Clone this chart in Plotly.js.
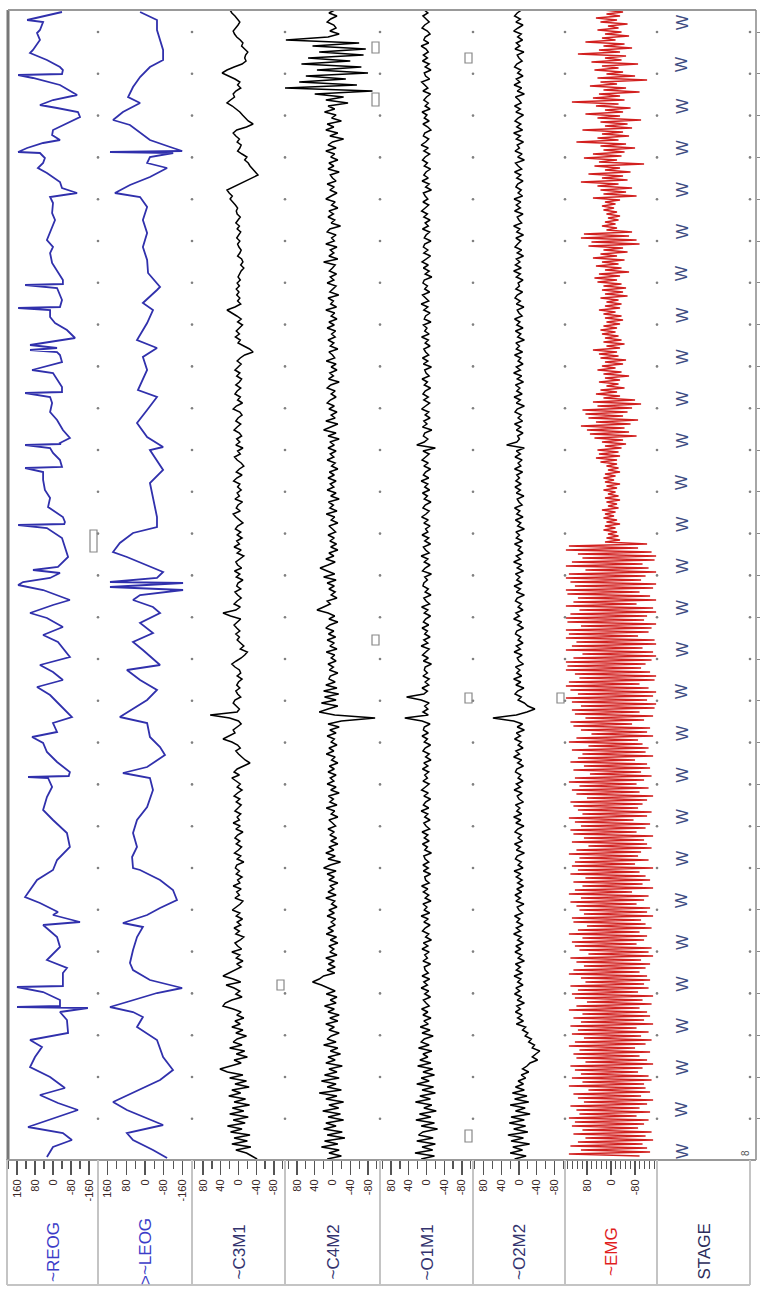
<!DOCTYPE html>
<html><head><meta charset="utf-8">
<script src="https://cdn.plot.ly/plotly-3.0.1.min.js"></script>
<style>html,body{margin:0;padding:0;background:#fff}#chart{width:760px;height:1290px}</style>
</head><body><div id="chart"></div>
<script>
// ---------------- DATA ----------------
const channelNames = ['~REOG', '>~LEOG', '~C3M1', '~C4M2', '~O1M1', '~O2M2', '~EMG', 'STAGE'];
const eogTicks = [160, 80, 0, -80, -160];
const eegTicks = [80, 40, 0, -40, -80];
const emgTicks = [80, 0, -80];

// EOG: vertices (time, µV)
const reogT = [2,10,12,20,23,30,40,43,50,57,60,64,65,68,75,80,85,90,95,98,102,107,113,120,125,130,133,138,142,143,148,153,158,163,172,178,183,187,193,203,210,217,230,237,243,253,263,270,274,275,278,285,290,297,298,300,307,313,320,328,332,335,338,340,342,345,352,360,363,370,377,382,383,387,393,402,410,420,428,433,434,435,438,443,450,457,458,462,470,480,488,497,507,512,514,515,518,528,538,547,557,560,563,568,572,575,580,585,590,595,603,608,617,625,632,647,655,662,670,677,685,693,707,713,722,727,733,742,752,762,766,767,768,777,787,800,810,823,837,850,860,870,887,893,902,905,912,915,927,937,950,958,963,976,977,982,990,996,997,998,1002,1010,1023,1030,1037,1047,1057,1067,1078,1085,1093,1100,1117,1123,1130,1137,1147];
const reogV = [-40,115,44,58,71,58,89,102,27,-31,-44,-40,155,89,-31,-67,-107,0,58,-18,-111,-120,-62,0,4,-31,44,115,155,58,36,44,67,27,-31,-40,-107,13,0,4,-9,4,27,0,13,4,-22,-44,-44,124,-18,-31,-40,-31,155,13,13,-9,-62,-98,27,102,-18,102,-18,-31,-40,93,0,-22,-40,-40,124,13,4,13,-18,-44,-75,-31,-35,124,13,0,-31,-40,124,44,44,36,13,22,-44,-53,-50,155,27,-40,-53,-67,-22,89,-31,13,133,155,44,-18,-75,0,102,27,-44,44,-22,-75,58,0,-44,71,13,-22,-84,0,-18,93,44,27,-18,-75,-70,111,22,4,27,44,0,-62,-75,-18,0,71,124,58,-22,0,-120,44,-18,-31,27,-62,-44,-44,160,44,-31,-31,160,-155,-31,-62,-67,102,49,80,102,13,-53,58,-22,-111,111,-44,-84,0,27];
const leogT = [2,10,20,30,40,50,57,67,77,87,93,102,110,115,123,130,137,141,142,143,147,153,158,167,175,183,187,197,210,223,237,250,263,277,280,293,300,313,330,338,347,360,380,387,400,413,427,437,440,460,473,487,507,517,523,533,542,547,557,562,568,572,573,577,580,585,590,597,603,613,623,632,640,655,660,670,680,690,707,713,727,737,745,757,763,768,780,797,810,823,837,847,858,860,870,880,890,898,905,913,917,927,940,953,960,970,978,983,992,997,1002,1007,1017,1030,1047,1060,1070,1083,1092,1100,1115,1123,1130,1140,1148];
const leogV = [21,-51,-51,-64,-77,-77,-21,21,51,72,21,94,136,64,21,-21,-107,-158,149,-120,-21,-9,-94,-21,64,128,21,-9,9,-9,9,-9,-13,-64,-51,9,-34,-9,34,-51,9,-9,30,-51,-9,34,-9,-77,-21,-77,-21,-34,-51,-51,51,107,136,77,-21,-77,-51,149,-162,149,-162,21,51,-34,-64,21,-34,51,9,-64,77,21,-51,-9,107,-9,-21,-64,-85,-9,94,-21,-34,-9,34,51,34,55,51,21,-64,-119,-136,-64,-9,94,9,34,51,64,51,-21,-158,-51,77,149,51,9,34,-51,-77,-119,-64,51,136,77,-77,77,51,-34,-94];

// EEG: regularly sampled values (µV), one sample every eegStep time units
const eegStep = 3;
const c3m1V = [
 19,15,8,2,-3,1,6,12,9,4,-4,-10,-7,-14,-21,-16,
 -14,-17,-8,10,26,37,22,8,-3,2,-5,6,12,9,18,26,
 14,5,-3,-9,-15,-22,-33,-18,4,12,6,-2,3,-6,-3,2,
 -8,-19,-14,-22,-26,-31,-38,-44,-30,-16,-3,12,26,21,14,19,
 12,7,2,5,3,-4,1,6,-2,3,-5,0,4,-3,2,-1,
 -6,-3,2,-7,-10,-5,-12,-6,-3,1,-4,3,-2,5,-1,4,
 -3,2,-5,8,26,14,4,-6,2,-9,-3,5,-2,7,-4,1,
 -12,-25,-33,-14,-4,3,-6,2,8,-3,4,-7,-2,6,-5,3,
 8,-4,2,-9,5,12,-3,-8,1,6,-5,3,10,-2,-7,4,
 -3,6,-10,2,-4,9,3,-6,-12,-2,5,-8,4,11,-3,2,
 -6,3,-2,8,-9,1,5,-4,12,6,-3,-10,2,7,-5,3,
 -8,4,-2,10,-6,3,-12,-4,6,2,-7,9,-3,5,-10,1,
 4,-5,8,2,-6,3,10,-4,6,35,18,-5,2,10,4,-3,
 6,-2,3,-5,-12,-4,-20,-14,-6,5,15,8,-2,-5,3,-8,
 0,4,-3,6,2,-5,8,12,5,-2,3,64,20,0,-6,4,
 12,8,20,35,15,2,-4,6,0,-8,-15,-26,-12,3,10,-2,
 15,6,-4,3,-8,2,10,-3,5,-6,1,8,-5,3,-2,12,
 -4,6,-10,2,8,-3,5,-7,0,9,-5,3,-12,4,7,-2,
 5,-8,2,-3,12,-6,4,-2,8,-10,-4,6,14,-3,5,-9,
 3,-5,10,-2,6,-12,-4,8,2,-7,15,-3,5,-10,4,-6,
 8,20,35,12,-5,28,10,-3,6,-8,15,30,35,12,-6,4,
 -12,8,-4,15,-10,6,-18,3,12,-8,20,-14,5,-20,10,-6,
 18,42,25,-10,20,-18,8,-24,15,-5,22,-16,10,-25,14,-12,
 20,-22,12,-15,25,-8,18,-26,10,-20,15,-28,6,-18,-30,-42];
const c4m2V = [
 -5,8,-10,4,12,-3,-8,6,-15,10,105,-60,45,-75,30,-70,
 55,-40,70,-65,35,-80,60,-30,75,-55,110,-90,40,-25,15,-35,
 10,-5,18,-8,2,-20,12,-3,15,-12,6,-25,0,10,-8,15,
 -5,4,-12,8,-3,10,-15,5,0,-8,12,-4,6,-10,3,15,
 -6,2,-12,8,-2,10,-5,3,-18,6,12,-8,2,-4,15,-10,
 5,-3,8,-12,20,-6,0,7,-9,5,-3,12,-8,0,6,-14,
 10,-2,4,-9,15,-5,3,-10,8,-4,12,-7,2,-6,10,-3,
 5,-12,8,0,-5,14,-8,3,-10,6,-2,9,-15,4,12,-6,
 3,-8,5,12,-4,8,-10,3,-6,15,-12,4,20,-8,10,-15,
 6,-4,10,-8,5,-3,12,-6,2,-12,7,-4,10,-8,5,-3,
 12,-8,4,-15,9,-2,6,-10,14,-5,3,-12,8,0,-7,10,
 -4,6,-9,4,-12,8,-3,15,-6,10,28,12,-5,20,-8,12,
 -4,8,-6,3,-10,12,5,20,35,10,-5,8,-12,6,15,-3,
 9,-7,12,-4,6,-10,14,-5,3,-8,10,-2,7,-12,5,8,
 -6,15,-10,20,-14,18,-8,25,-12,10,30,-5,-96,-20,10,-15,
 6,-8,12,-4,3,-10,8,-3,14,-6,2,-12,7,-4,10,-8,
 5,-3,12,-8,4,-15,9,-2,6,-10,14,-5,3,-12,8,0,
 -7,10,-4,6,-9,4,-12,8,-3,15,-6,10,-18,5,20,-8,
 12,-4,8,-12,6,-3,10,-8,15,-5,2,-10,8,-4,12,-7,
 3,-6,10,-2,14,-9,5,-12,8,-3,6,-10,15,-4,9,-6,
 12,-5,20,30,45,25,8,-6,14,-10,5,-8,18,-4,10,-15,
 6,-12,15,-4,8,-15,3,12,-8,20,-12,5,-18,10,-6,15,
 -22,8,-10,18,-15,25,-8,12,-20,30,-10,15,-25,8,-14,22,
 -18,10,-25,15,-8,20,-22,12,-28,18,-12,25,-15,8,-20,12];
const o1m1V = [
 5,-3,8,2,-6,4,10,-2,-8,3,6,-5,12,1,-4,7,
 -2,9,-6,3,-10,5,2,-7,11,4,-3,8,-9,0,6,-4,
 3,-8,10,-1,5,-6,8,-3,-10,4,7,-5,2,12,-4,6,
 -7,3,9,-2,5,-9,1,6,-4,10,-6,2,-11,7,3,-3,
 8,-5,4,11,-2,6,-8,3,-4,9,-7,1,5,-10,4,7,
 -3,6,-9,2,10,-4,7,-6,3,-12,5,8,-2,4,-7,9,
 1,-5,12,-3,6,-8,2,5,-10,7,-1,4,-6,11,-4,3,
 -8,6,2,-5,9,-3,7,-11,4,1,-6,10,-2,5,-9,3,
 8,-4,6,-7,2,11,-5,3,-8,6,-1,9,-12,4,7,-3,
 5,22,-20,8,-6,3,10,-4,6,-9,2,7,-5,12,-3,4,
 -7,9,-2,5,-10,3,8,-6,1,11,-4,6,-8,2,-3,10,
 -5,4,-9,7,2,-6,12,-3,5,-8,3,9,-11,4,-2,6,
 8,-4,3,-10,6,1,-7,11,-3,5,-9,2,7,-5,10,-2,
 4,-8,6,-3,12,-6,2,9,-4,7,-11,3,5,-2,8,-6,
 3,-5,10,-2,6,45,12,-6,4,-3,8,-4,49,10,-8,5,
 7,-4,10,-2,5,-9,3,8,-6,2,-10,6,-3,9,-5,4,
 -2,8,-6,3,11,-4,6,-9,2,7,-5,12,-3,4,-8,6,
 1,-7,10,-3,5,-6,9,-2,4,-11,6,3,-5,8,-4,7,
 -9,4,2,-6,11,-3,7,-5,3,-10,8,-1,5,-7,12,-4,
 6,-8,3,9,-5,2,-11,7,-3,10,-6,4,-2,8,-9,5,
 3,-4,10,-7,6,-2,12,-5,4,-9,7,1,-6,11,-3,8,
 -10,6,-4,14,-8,10,-15,5,12,-6,18,-12,8,-3,15,-10,
 20,-14,8,-18,12,-6,22,-16,10,-20,15,-9,25,-12,6,-22,
 16,-10,24,-18,12,-25,8,18,-15,22,-20,10,-14,26,-18,12];
const o2m2V = [
 -6,4,10,-3,7,-9,2,12,-5,3,-8,6,-2,9,-11,4,
 0,-7,5,10,-4,3,-9,6,-2,11,-6,4,-12,8,0,-5,
 10,-3,7,-10,2,9,-4,5,-8,12,-3,6,-10,4,-1,9,
 -7,3,-12,8,2,-6,10,-4,5,-9,3,7,-5,2,-8,11,
 -4,6,-3,10,-9,4,0,-6,12,-2,5,-10,7,-4,3,9,
 -6,4,-10,6,-2,8,-5,12,-3,6,-9,2,-1,7,-8,4,
 9,-3,6,-11,4,0,-7,10,-2,5,-9,8,-4,3,-12,7,
 -1,6,-8,10,-4,2,-9,6,-3,12,-6,4,-10,8,-2,5,
 -7,11,-3,6,-12,4,9,-5,2,-8,10,-4,6,-9,3,-1,
 5,28,-12,6,-3,9,-7,2,-4,10,-8,5,-1,7,-5,9,
 -3,6,-11,4,0,-7,10,-2,5,-9,8,-4,3,-12,7,-1,
 6,-8,10,-4,2,-9,6,-3,12,-6,4,-10,8,-2,5,-7,
 11,-3,6,-12,4,8,-5,2,-9,7,-1,12,-6,3,-10,5,
 8,-4,2,-9,6,-3,11,-7,4,0,-10,8,-2,5,-6,12,
 -4,7,-11,3,9,-5,2,-12,-20,-36,-18,6,59,12,-8,4,
 -12,6,-3,10,-5,2,-9,7,-1,12,-6,3,-10,5,8,-4,
 2,-9,6,-3,11,-7,4,0,-10,8,-2,5,-6,12,-4,7,
 -11,3,9,-5,2,-8,10,-3,6,-12,4,8,-5,2,-9,11,
 -4,6,-7,3,-10,5,-6,9,-3,7,-11,4,0,-8,10,-2,
 5,-9,6,-3,12,-5,3,-10,7,-4,9,-6,2,-12,8,-3,
 6,-8,11,-4,3,-9,7,-2,10,-6,4,-12,5,-3,8,-7,
 3,-10,6,-15,-8,-20,-14,-28,-22,-35,-30,-47,-38,-30,-42,-25,
 -18,-8,-22,-5,-15,2,-10,8,-12,15,-18,10,-22,20,-14,8,
 -25,18,-12,22,-15,12,-20,25,-10,18,-24,14,-8,20,-16,10];

// EMG: one sample every emgStep time units
const emgStep = 2;
const emgV = [
 25,-40,15,-30,50,-20,35,-55,10,-25,45,-35,20,-60,30,-15,
 85,-45,25,-70,40,-30,110,-50,20,-35,65,-90,30,-25,55,-40,
 15,-80,45,-120,35,-20,70,-50,25,-95,40,-30,60,-45,130,-25,
 50,-65,20,-40,85,-30,45,-100,35,-55,20,-70,95,-40,30,-60,
 45,-25,115,-50,35,-80,25,-45,60,-35,90,-20,40,-110,55,-30,
 20,-65,75,-40,30,-55,100,-25,45,-70,35,-50,25,-85,60,-30,
 20,-15,30,-10,25,-20,15,-30,10,-25,20,-15,30,-20,15,
 -70,90,-60,100,-85,65,-95,75,
 -40,25,-55,35,-20,60,-45,30,-25,50,-35,20,-60,40,-30,55,-20,45,-35,25,-50,30,-40,20,-55,35,
 -25,15,-35,20,-30,40,-15,25,-35,20,-40,15,-30,25,-20,35,-15,30,-25,20,
 -35,25,-45,15,-30,60,-20,40,-25,35,-50,20,-40,30,-15,45,-35,25,-60,20,-30,40,-25,15,-45,35,-20,50,-30,25,
 -80,60,-100,45,-70,95,-55,85,-40,75,-90,50,-65,100,-45,80,-60,70,-85,55,
 -40,30,-50,20,-35,45,-25,40,-30,50,-20,35,
 -20,15,-25,10,-30,20,-15,25,-10,20,-30,15,-20,25,-15,10,-25,20,-30,15,-20,10,-25,30,-15,20,-10,25,-20,15,-30,20,-15,25,-20,10,-25,15,-30,20,
 -120,140,-90,150,-135,110,-150,95,-145,130,-105,150,-125,85,-150,140,-115,150,-100,135,
 -150,120,-140,150,-95,145,-130,110,-150,125,-85,150,-140,105,-150,135,-120,150,-110,145,
 -150,100,-135,150,-125,140,-90,150,-145,115,-150,130,-105,150,-140,95,-150,125,-135,150,
 -115,145,-100,150,-130,120,-150,105,-145,140,-95,150,-125,135,-150,110,-140,150,-120,130,
 -150,100,-145,
 130,-95,120,-140,85,-110,135,-70,125,-130,100,-120,65,-140,115,-90,
 140,-105,75,-125,130,-115,95,-140,110,-80,135,-120,90,-130,125,-100,
 70,-135,120,-110,140,-85,105,-125,130,-95,115,-140,80,-120,135,-105,
 125,-90,110,-135,95,-120,140,-75,120,-130,100,-115,135,-85,125,-140,
 90,-110,130,-120,75,-135,115,-100,140,-90,105,-125,120,-80,130,-140,
 110,-95,135,-115,85,-130,125,-105,95,-140,120,-70,140,-125,100,-110,
 135,-85,115,-130,105,-120,90,-140,130,-100,125,-115,80,-135,110,-95,
 140,-120,95,-110,130,-85,120,-135,105,-125,75,-140,135,-100,115,-130,
 90,-115,125,-95,140,-120,100,-130,85,-110,135,-125,110,-90,130,-140,
 120,-105,80,-135,115,-95,140,-120,95,-130,125,-110,100,-140,135,-85,
 110,-125,130,-100,90,-135,120,-115,140,-80,105,-130,125,-95,115,-120,
 85,-140,135,-105,120,-90,100,-125,130,-135,95,-110,140,-115,75,-130,
 125,-100,110,-140,90,-120,135,-95,115,-130,105,-85,140,-125,120,-110,
 130,-90,95,-135,125,-115,85,-140,110,-105,135,-120,100,-130,140,-95];

// Sleep stage per epoch
const stages = ['W','W','W','W','W','W','W','W','W','W','W','W','W','W','W','W','W','W','W','W','W','W','W','W','W','W','W','W'];
const epochLen = 41.8;      // time units per epoch
const epochLabelT0 = 12;    // first stage label time
const gridT0 = 22;          // first grid row time

// Event markers: channel index, start time, duration
const evChan = [0, 3, 3, 4, 2, 4, 5, 3, 4];
const evT    = [520, 32, 83, 43, 970, 683, 683, 625, 1120];
const evDur  = [22, 11, 13, 10, 10, 10, 10, 10, 12];

// ---------------- LAYOUT ----------------
const W = 760, H = 1290;
const plotL = 8, plotR = 756, plotT = 10, plotB = 1160;
const pw = plotR - plotL, ph = plotB - plotT;
const colEdges = [8, 98, 192, 285, 380, 473, 565, 657, 750];
const px = p => (p - plotL) / pw;
const py = p => (plotB - p) / ph;

const lineColors = ['#3030ac', '#3030ac', '#000', '#000', '#000', '#000', '#d2201f'];
const nameColors = ['#3c3cc8', '#3c3cc8', '#33336e', '#33336e', '#33336e', '#33336e', '#e01e1e', '#2c2c5a'];
const ranges = [[200,-200],[200,-200],[105,-105],[107,-107],[105,-105],[104,-104],[153,-153],[0,1]];
const tickSets = [eogTicks, eogTicks, eegTicks, eegTicks, eegTicks, eegTicks, emgTicks, []];
const minorSteps = [40, 40, 20, 20, 20, 20, 16, 0];
const lineWidths = [1.8, 1.8, 1.5, 1.5, 1.5, 1.5, 1.5];

function ax(i) { return i === 0 ? 'x' : 'x' + (i + 1); }
function axKey(i) { return i === 0 ? 'xaxis' : 'xaxis' + (i + 1); }
function idxTimes(n, step) { const a = []; for (let i = 0; i < n; i++) a.push(i * step); return a; }

const series = [
  {t: reogT, v: reogV},
  {t: leogT, v: leogV},
  {t: idxTimes(c3m1V.length, eegStep), v: c3m1V},
  {t: idxTimes(c4m2V.length, eegStep), v: c4m2V},
  {t: idxTimes(o1m1V.length, eegStep), v: o1m1V},
  {t: idxTimes(o2m2V.length, eegStep), v: o2m2V},
  {t: idxTimes(emgV.length, emgStep), v: emgV}
];

const traces = series.map((s, i) => ({
  type: 'scatter', mode: 'lines', x: s.v, y: s.t, xaxis: ax(i), yaxis: 'y',
  line: {color: lineColors[i], width: lineWidths[i]},
  hoverinfo: 'skip', showlegend: false
}));

// grid dots at column boundaries
const dotX = [], dotY = [];
const nRows = Math.floor((ph - gridT0) / epochLen) + 1;
for (let k = 0; k < nRows; k++) {
  for (let c = 1; c < colEdges.length; c++) { dotX.push(colEdges[c]); dotY.push(gridT0 + k * epochLen); }
}
traces.push({type: 'scatter', mode: 'markers', x: dotX, y: dotY, xaxis: 'x9', yaxis: 'y',
  marker: {size: 2.6, color: '#808080'}, hoverinfo: 'skip', showlegend: false});

const font = '"Liberation Sans", Arial, sans-serif';
const layout = {
  width: W, height: H, margin: {l: plotL, r: W - plotR, t: plotT, b: H - plotB, pad: 0},
  paper_bgcolor: '#fff', plot_bgcolor: 'rgba(0,0,0,0)', showlegend: false, hovermode: false,
  font: {family: font},
  yaxis: {domain: [0, 1], range: [ph, 0], anchor: 'free', position: 1, side: 'right',
    showgrid: false, zeroline: false, showline: false, ticks: 'outside', ticklen: 5, tickwidth: 1,
    tickcolor: '#888', tickmode: 'linear', tick0: gridT0, dtick: epochLen, showticklabels: false, fixedrange: true},
  xaxis9: {domain: [0, 1], range: [plotL, plotR], anchor: 'y', visible: false, fixedrange: true},
  shapes: [], annotations: []
};

for (let i = 0; i < 8; i++) {
  const ticks = tickSets[i];
  const a = {
    domain: [px(colEdges[i]), px(colEdges[i + 1])], range: ranges[i], anchor: 'y', side: 'bottom',
    showgrid: false, zeroline: false, showline: false, fixedrange: true
  };
  if (ticks.length) {
    Object.assign(a, {
      ticks: 'outside', ticklen: 14, tickwidth: 1.3, tickcolor: '#555',
      tickmode: 'array', tickvals: ticks, ticktext: ticks.map(String), tickangle: -90,
      tickfont: {size: 11, color: '#3a2626', family: font},
      minor: {tickmode: 'linear', tick0: 0, dtick: minorSteps[i], ticks: 'outside', ticklen: 8, tickwidth: 1.2, tickcolor: '#555'}
    });
  } else {
    Object.assign(a, {showticklabels: false, ticks: ''});
  }
  layout[axKey(i)] = a;
  layout.annotations.push({xref: 'paper', yref: 'paper', x: px((colEdges[i] + colEdges[i + 1]) / 2), y: py(1252),
    xanchor: 'center', yanchor: 'middle',
    text: channelNames[i], textangle: -90, showarrow: false, font: {size: 17, color: nameColors[i], family: font}});
}

// stage labels
stages.forEach((s, k) => {
  layout.annotations.push({xref: 'x8', yref: 'y', x: 0.27, y: epochLabelT0 + k * epochLen, text: s,
    xanchor: 'center', yanchor: 'middle',
    textangle: -90, showarrow: false, font: {size: 16, color: '#3e4c82', family: font}});
});
layout.annotations.push({xref: 'paper', yref: 'paper', x: px(745), y: py(1153), text: '8', textangle: -90,
  xanchor: 'center', yanchor: 'middle', showarrow: false, font: {size: 10, color: '#555', family: font}});

// event markers
evChan.forEach((c, k) => {
  const right = colEdges[c + 1];
  layout.shapes.push({type: 'rect', xref: 'paper', yref: 'y', x0: px(right - 8), x1: px(right - 1),
    y0: evT[k], y1: evT[k] + evDur[k], line: {color: '#888', width: 1.2}, fillcolor: 'rgba(0,0,0,0)'});
});

// frame
const frameLine = (x0, y0, x1, y1, color, w) => ({type: 'line', xref: 'paper', yref: 'paper', x0, y0, x1, y1, line: {color, width: w}});
layout.shapes.push(frameLine(0, 0, 0, 1, '#777', 3));
layout.shapes.push(frameLine(0, 1, 1, 1, '#999', 2));
layout.shapes.push(frameLine(1, 0, 1, 1, '#888', 1.5));
layout.shapes.push(frameLine(px(6), 0, 1, 0, '#999', 2));
const stripBottom = py(1285);
colEdges.forEach((e, c) => {
  const xx = px(c === 0 ? 7 : e);
  layout.shapes.push(frameLine(xx, 0, xx, stripBottom, '#c4c4c4', 2));
});
layout.shapes.push(frameLine(px(7), stripBottom, px(colEdges[8]), stripBottom, '#c4c4c4', 2));

Plotly.newPlot('chart', traces, layout, {staticPlot: true, displayModeBar: false});
</script>
</body></html>
